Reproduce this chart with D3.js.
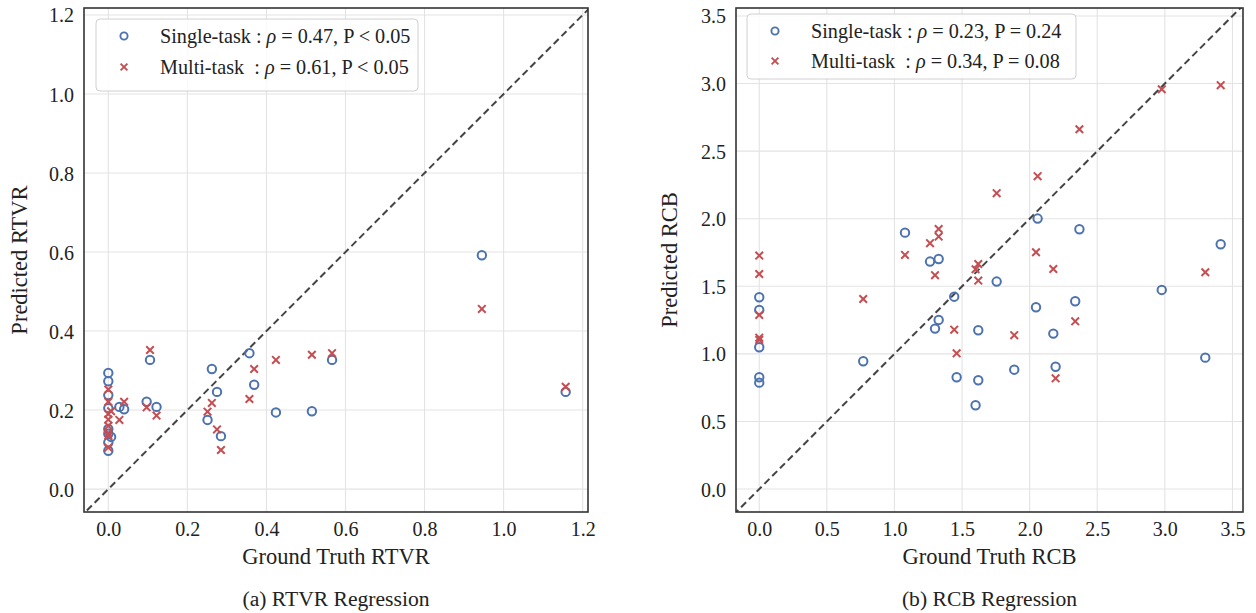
<!DOCTYPE html>
<html><head><meta charset="utf-8">
<script src="https://cdn.jsdelivr.net/npm/d3@7"></script>
<style>body{margin:0;background:#fff}svg{display:block}text{font-family:"Liberation Serif","DejaVu Serif",serif;fill:#222}</style>
</head><body>
<svg id="c" width="1256" height="613"></svg>
<script>
// ---- RTVR panel data ----
const rtvrX = [0,0,0,0,0,0,0,0,0.007,0.028,0.040,0.097,0.1055,0.122,0.251,0.262,0.275,0.285,0.357,0.369,0.424,0.515,0.566,0.945,1.157];
const rtvrSingle = [0.294,0.273,0.238,0.205,0.152,0.140,0.118,0.097,0.132,0.208,0.202,0.221,0.327,0.208,0.175,0.304,0.246,0.134,0.344,0.264,0.194,0.197,0.327,0.592,0.246];
const rtvrMulti  = [0.252,0.221,0.176,0.160,0.142,0.135,0.105,0.190,0.197,0.175,0.221,0.207,0.352,0.186,0.196,0.218,0.151,0.099,0.228,0.304,0.327,0.340,0.344,0.456,0.259];
const rtvrTicks = [0.0,0.2,0.4,0.6,0.8,1.0,1.2];
// ---- RCB panel data ----
const rcbX = [0,0,0,0,0,0.769,1.078,1.263,1.327,1.327,1.300,1.442,1.460,1.620,1.620,1.600,1.756,1.886,2.047,2.059,2.175,2.192,2.337,2.368,2.977,3.299,3.413];
const rcbSingle = [1.419,1.325,1.049,0.827,0.787,0.945,1.897,1.683,1.702,1.251,1.187,1.423,0.827,1.175,0.805,0.620,1.535,0.883,1.345,2.001,1.150,0.905,1.389,1.922,1.473,0.972,1.811];
const rcbMulti  = [1.727,1.591,1.288,1.120,1.103,1.406,1.732,1.819,1.924,1.868,1.582,1.179,1.004,1.665,1.542,1.626,2.189,1.138,1.752,2.315,1.628,0.819,1.241,2.662,2.958,1.604,2.988];
const rcbTicks = [0.0,0.5,1.0,1.5,2.0,2.5,3.0,3.5];

const BLUE = "#4C72B0", RED = "#C44E52";
const svg = d3.select("#c");

function panel(cfg){
  const g = svg.append("g");
  const x = d3.scaleLinear().domain(cfg.xd).range([cfg.x0, cfg.x1]);
  const y = d3.scaleLinear().domain(cfg.yd).range([cfg.y1, cfg.y0]);
  // grid
  g.append("g").selectAll("line").data(cfg.ticks).join("line")
    .attr("x1", d=>x(d)).attr("x2", d=>x(d)).attr("y1", cfg.y0).attr("y2", cfg.y1)
    .attr("stroke", "#e3e3e3").attr("stroke-width", 1.1);
  g.append("g").selectAll("line").data(cfg.ticks).join("line")
    .attr("y1", d=>y(d)).attr("y2", d=>y(d)).attr("x1", cfg.x0).attr("x2", cfg.x1)
    .attr("stroke", "#e3e3e3").attr("stroke-width", 1.1);
  // axes (labels only)
  const fmt = d3.format(".1f");
  const xa = g.append("g").attr("transform", `translate(0,${cfg.y1})`)
    .call(d3.axisBottom(x).tickValues(cfg.ticks).tickFormat(fmt).tickSize(0).tickPadding(10));
  const ya = g.append("g").attr("transform", `translate(${cfg.x0},0)`)
    .call(d3.axisLeft(y).tickValues(cfg.ticks).tickFormat(fmt).tickSize(0).tickPadding(10));
  [xa, ya].forEach(a=>{ a.select(".domain").remove();
    a.selectAll("text").attr("font-size", 20).attr("fill", "#222")
     .attr("font-family", '"Liberation Serif",serif'); });
  ya.selectAll("text").attr("dy", "0.35em");
  // diagonal
  const lo = Math.max(cfg.xd[0], cfg.yd[0]) - 1, hi = Math.min(cfg.xd[1], cfg.yd[1]) + 1;
  g.append("clipPath").attr("id", cfg.id+"clip").append("rect")
    .attr("x", cfg.x0).attr("y", cfg.y0).attr("width", cfg.x1-cfg.x0).attr("height", cfg.y1-cfg.y0);
  const cg = g.append("g").attr("clip-path", `url(#${cfg.id}clip)`);
  cg.append("line").attr("x1", x(lo)).attr("y1", y(lo)).attr("x2", x(hi)).attr("y2", y(hi))
    .attr("stroke", "#444").attr("stroke-width", 2).attr("stroke-dasharray", "7,4");
  // points
  cg.append("g").selectAll("circle").data(cfg.xs.map((d,i)=>[d, cfg.s[i]])).join("circle")
    .attr("cx", d=>x(d[0])).attr("cy", d=>y(d[1])).attr("r", 4.2)
    .attr("fill", "none").attr("stroke", BLUE).attr("stroke-width", 2);
  const k = 3.8;
  cg.append("g").selectAll("path").data(cfg.xs.map((d,i)=>[d, cfg.m[i]])).join("path")
    .attr("d", d=>{const px=x(d[0]), py=y(d[1]); return `M${px-k},${py-k}L${px+k},${py+k}M${px-k},${py+k}L${px+k},${py-k}`;})
    .attr("stroke", RED).attr("stroke-width", 2).attr("fill", "none");
  // frame
  g.append("rect").attr("x", cfg.x0).attr("y", cfg.y0).attr("width", cfg.x1-cfg.x0).attr("height", cfg.y1-cfg.y0)
    .attr("fill", "none").attr("stroke", "#333").attr("stroke-width", 1.6);
  // labels
  const cx = (cfg.x0+cfg.x1)/2;
  g.append("text").attr("x", cx).attr("y", 564).attr("text-anchor", "middle").attr("font-size", 22.5).text(cfg.xl);
  g.append("text").attr("transform", `translate(${cfg.ylx},${(cfg.y0+cfg.y1)/2}) rotate(-90)`)
    .attr("text-anchor", "middle").attr("font-size", 22.5).text(cfg.yl);
  g.append("text").attr("x", cx).attr("y", 606).attr("text-anchor", "middle").attr("font-size", 21.6).text(cfg.cap);
  // legend
  const L = cfg.leg;
  g.append("rect").attr("x", L.x).attr("y", L.y).attr("width", L.w).attr("height", L.h).attr("rx", 4)
    .attr("fill", "rgba(255,255,255,0.85)").attr("stroke", "#d0d0d0").attr("stroke-width", 1);
  g.append("circle").attr("cx", L.x+28).attr("cy", L.r1).attr("r", 3.6).attr("fill", "none").attr("stroke", BLUE).attr("stroke-width", 1.9);
  const lk = 3.4, mx = L.x+28, my = L.r2;
  g.append("path").attr("d", `M${mx-lk},${my-lk}L${mx+lk},${my+lk}M${mx-lk},${my+lk}L${mx+lk},${my-lk}`)
    .attr("stroke", RED).attr("stroke-width", 1.9);
  [[L.r1, "Single-task : ", L.t1], [L.r2, "Multi-task\u00a0\u00a0: ", L.t2]].forEach(([ry, a, b])=>{
    const t = g.append("text").attr("x", L.x+64).attr("y", ry).attr("dy", "0.35em").attr("font-size", 20.2);
    t.append("tspan").text(a);
    t.append("tspan").attr("font-style", "italic").text("ρ");
    t.append("tspan").text(b);
  });
}

panel({id:"a", x0:84, x1:588, y0:8, y1:512, xd:[-0.0615,1.2135], yd:[-0.058,1.2177], ticks:rtvrTicks,
  xs:rtvrX, s:rtvrSingle, m:rtvrMulti, xl:"Ground Truth RTVR", yl:"Predicted RTVR", ylx:27, cap:"(a) RTVR Regression",
  leg:{x:96, y:19, w:322, h:72, r1:36, r2:67, t1:" = 0.47, P < 0.05", t2:" = 0.61, P < 0.05"}});
panel({id:"b", x0:736, x1:1243, y0:8, y1:512, xd:[-0.172,3.578], yd:[-0.17,3.559], ticks:rcbTicks,
  xs:rcbX, s:rcbSingle, m:rcbMulti, xl:"Ground Truth RCB", yl:"Predicted RCB", ylx:677, cap:"(b) RCB Regression",
  leg:{x:747, y:14, w:329, h:65, r1:31, r2:61, t1:" = 0.23, P = 0.24", t2:" = 0.34, P = 0.08"}});
</script>
</body></html>
